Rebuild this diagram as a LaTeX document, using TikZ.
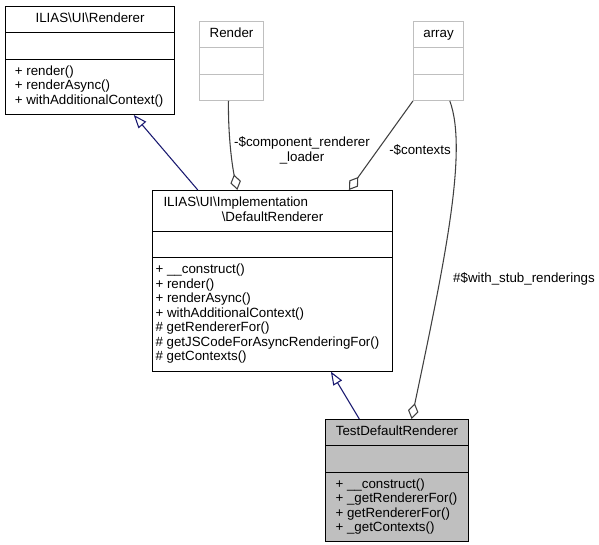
\documentclass[tikz,border=0pt]{standalone}
\usepackage{fontspec}
\setmainfont{Liberation Sans}
\usetikzlibrary{shapes.multipart, arrows.meta, calc}
\definecolor{edgegray}{HTML}{404040}
\definecolor{inhblue}{HTML}{191970}
\definecolor{boxgray}{HTML}{BFBFBF}
\newcommand{\clshead}[2]{\parbox{#1}{\centering\strut #2\strut}}
\newcommand{\clsbody}[2]{\parbox{#1}{\raggedright\strut #2\strut}}

\begin{document}
\begin{tikzpicture}[x=0.75pt, y=-0.75pt,
    cls/.style = {rectangle split, rectangle split parts=3, draw=black, line width=0.8pt,
      anchor=north west, inner xsep=3pt, inner ysep=4pt,
      font=\fontsize{10pt}{10.9pt}\selectfont},
    ext/.style = {cls, draw=boxgray},
    cur/.style = {cls, fill=boxgray},
    inherit/.style = {draw=inhblue, line width=0.8pt, -{Triangle[open, length=10pt, width=7.5pt]}},
    aggr/.style = {draw=edgegray, line width=0.8pt, {Diamond[open, length=12pt, width=8pt]}-},
    lbl/.style = {font=\fontsize{10pt}{11.2pt}\selectfont, align=center, inner sep=0pt}]
  \useasboundingbox (0,0) rectangle (599,545);

  \node[cls, inner xsep=7pt] (renderer) at (5,6)
    {\clshead{112.75pt}{ILIAS\textbackslash UI\textbackslash Renderer}
     \nodepart{two}\strut
     \nodepart{three}\clsbody{112.75pt}{+ render()\\+ renderAsync()\\+ withAdditionalContext()}};
  \node[ext] (render) at (199,21)
    {\clshead{42pt}{Render}\nodepart{two}\strut\nodepart{three}\strut};
  \node[ext] (array) at (413,21)
    {\clshead{31.5pt}{array}\nodepart{two}\strut\nodepart{three}\strut};
  \node[cls, inner xsep=2.25pt] (default) at (152,190)
    {\clshead{175.5pt}{\hspace*{6pt}ILIAS\textbackslash UI\textbackslash Implementation\hfill\null\\
     \textbackslash DefaultRenderer}
     \nodepart{two}\strut
     \nodepart{three}\clsbody{175.5pt}{+ \_\_construct()\\+ render()\\+ renderAsync()\\+ withAdditionalContext()\\
     \# getRendererFor()\\\# getJSCodeForAsyncRenderingFor()\\\# getContexts()}};
  \node[cur, inner xsep=7.5pt] (test) at (325,419)
    {\clshead{92.25pt}{TestDefaultRenderer}
     \nodepart{two}\strut
     \nodepart{three}\clsbody{92.25pt}{+ \_\_construct()\\+ \_getRendererFor()\\+ getRendererFor()\\+ \_getContexts()}};

  \draw[inherit] ($(default.north west)!0.19!(default.north east)$) -- ($(renderer.south west)!0.757!(renderer.south east)$);
  \draw[aggr] ($(default.north west)!0.354!(default.north east)$) .. controls (232,165) and (228,135) .. ($(render.south west)!0.453!(render.south east)$);
  \draw[aggr] ($(default.north west)!0.817!(default.north east)$) -- (array.south west);
  \draw[aggr] ($(test.north west)!0.601!(test.north east)$) .. controls (445,260) and (468,150) .. ($(array.south west)!0.72!(array.south east)$);
  \draw[inherit] ($(test.north west)!0.238!(test.north east)$) -- ($(default.south west)!0.742!(default.south east)$);

  \node[lbl] (loaderlabel) at (302,150) {-\$component\_renderer\\\_loader};
  \node[lbl] (contextslabel) at (420,150) {-\$contexts};
  \node[lbl] (stublabel) at (524,279) {\#\$with\_stub\_renderings};
\end{tikzpicture}
\end{document}
